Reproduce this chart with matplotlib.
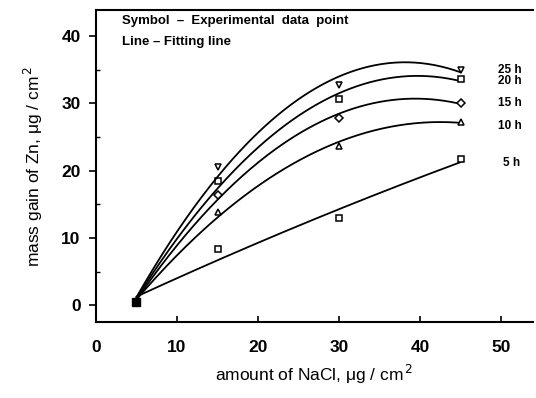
import numpy as np
import matplotlib.pyplot as plt

plt.rcParams['font.family'] = ['Liberation Sans', 'DejaVu Sans']

# experimental points, amount of NaCl vs mass gain of Zn
nacl = [5, 15, 30, 45]
gain_5h = [0.5, 8.4, 12.9, 21.7]
gain_10h = [0.5, 13.8, 23.7, 27.3]
gain_15h = [0.5, 16.4, 27.9, 30.1]
gain_20h = [0.5, 18.5, 30.6, 33.6]
gain_25h = [0.5, 20.6, 32.8, 35.0]

labels = ['5 h', '10 h', '15 h', '20 h', '25 h']
markers = ['s', '^', 'D', 's', 'v']
msizes = [5, 5, 4, 5, 5]
series = [gain_5h, gain_10h, gain_15h, gain_20h, gain_25h]
label_x = [50.2, 49.6, 49.6, 49.6, 49.6]
label_y = [21.2, 26.6, 30.0, 33.3, 34.9]

fig = plt.figure(figsize=(5.36, 3.98), dpi=100)
ax = fig.add_axes([0.179, 0.191, 0.815, 0.784])

xs = np.linspace(5, 45, 200)
for vals, m, s, lab, lx, ly in zip(series, markers, msizes, labels, label_x, label_y):
    coef = np.polyfit(nacl, vals, 2)
    ax.plot(xs, np.polyval(coef, xs), color='black', lw=1.3)
    ax.plot(nacl[1:], vals[1:], linestyle='none', marker=m, ms=s,
            mfc='white', mec='black', mew=1.1)
    ax.text(lx, ly, lab, fontsize=8.5, fontweight='bold', va='center')
ax.plot([5], [0.5], 's', color='black', ms=5.5)

ax.text(3.2, 42.2, 'Symbol  \u2013  Experimental  data  point', fontsize=9.5,
        fontweight='bold', va='center')
ax.text(3.2, 39.2, 'Line \u2013 Fitting line', fontsize=9.5,
        fontweight='bold', va='center')

ax.set_xlim(0, 53.9)
ax.set_ylim(-2.5, 43.9)
ax.set_xticks([0, 10, 20, 30, 40, 50])
ax.set_yticks([0, 10, 20, 30, 40])
ax.set_yticks([5, 15, 25, 35], minor=True)
ax.tick_params(axis='x', direction='in', length=4, width=1.2, pad=13,
               labelsize=12.5)
ax.tick_params(axis='y', direction='out', length=5, width=1.2, pad=6,
               labelsize=12.5)
ax.tick_params(axis='y', which='minor', direction='in', length=3, width=1)
for t in ax.get_xticklabels() + ax.get_yticklabels():
    t.set_fontweight('bold')
ax.spines['right'].set_visible(False)
for sp in ['left', 'bottom', 'top']:
    ax.spines[sp].set_linewidth(1.5)

ax.set_xlabel('amount of NaCl, \u03bcg / cm$^{\\,2}$', fontsize=12.5, labelpad=6)
ax.set_ylabel('mass gain of Zn, \u03bcg / cm$^{\\,2}$', fontsize=12.5, labelpad=12)

fig.savefig('out.png', dpi=100)
